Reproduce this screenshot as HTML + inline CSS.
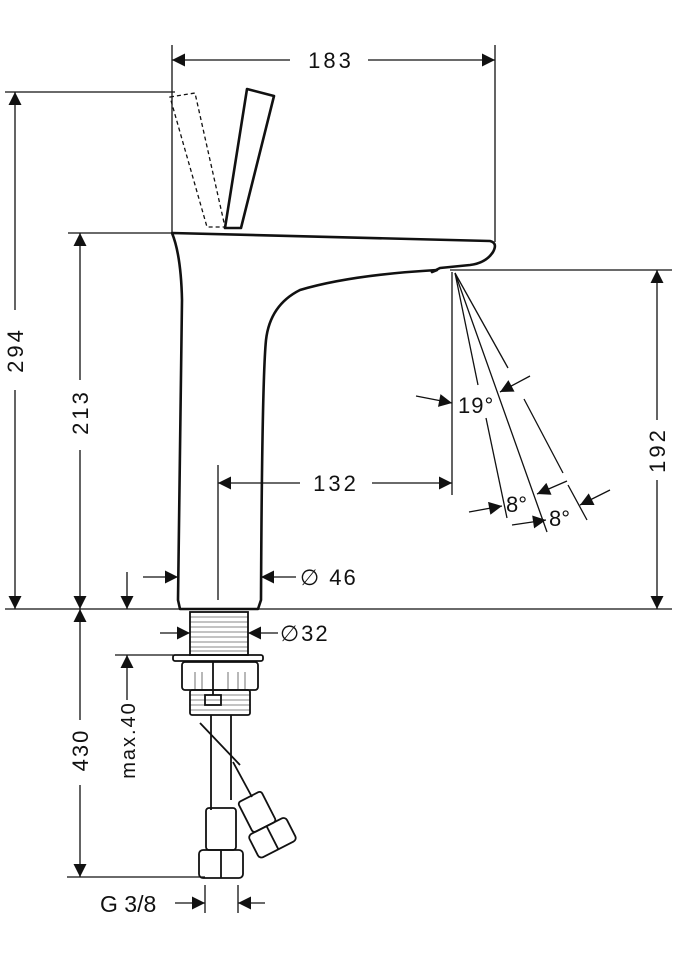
<!DOCTYPE html>
<html><head><meta charset="utf-8"><style>
html,body{margin:0;padding:0;background:#fff}
svg{display:block}
text{font-family:"Liberation Sans",sans-serif;fill:#111}
</style></head><body>
<svg width="675" height="960" viewBox="0 0 675 960" xmlns="http://www.w3.org/2000/svg">
<defs>
<marker id="a" viewBox="0 0 10 10" refX="10" refY="5" markerWidth="17" markerHeight="13" markerUnits="userSpaceOnUse" orient="auto"><path d="M0,0L10,5L0,10z" fill="#111"/></marker>
</defs>
<g stroke="#111" stroke-width="1.3" fill="none">
<line x1="172" y1="45" x2="172" y2="233"/>
<line x1="495" y1="45" x2="495" y2="242"/>
<line x1="5" y1="92" x2="175" y2="92"/>
<line x1="68" y1="233" x2="172" y2="233"/>
<line x1="450" y1="270" x2="672" y2="270"/>
<line x1="5" y1="609" x2="672" y2="609"/>
<line x1="67" y1="877" x2="205" y2="877"/>
<line x1="115" y1="655" x2="175" y2="655"/>
<line x1="218" y1="465" x2="218" y2="600"/>
<line x1="452" y1="272" x2="452" y2="495"/>
<line x1="205" y1="885" x2="205" y2="913"/>
<line x1="238" y1="885" x2="238" y2="913"/>
<line x1="290" y1="60" x2="172" y2="60" marker-end="url(#a)"/>
<line x1="368" y1="60" x2="495" y2="60" marker-end="url(#a)"/>
<line x1="15" y1="310" x2="15" y2="92" marker-end="url(#a)"/>
<line x1="15" y1="390" x2="15" y2="609" marker-end="url(#a)"/>
<line x1="80" y1="380" x2="80" y2="233" marker-end="url(#a)"/>
<line x1="80" y1="450" x2="80" y2="609" marker-end="url(#a)"/>
<line x1="80" y1="720" x2="80" y2="609" marker-end="url(#a)"/>
<line x1="80" y1="785" x2="80" y2="877" marker-end="url(#a)"/>
<line x1="657" y1="420" x2="657" y2="270" marker-end="url(#a)"/>
<line x1="657" y1="480" x2="657" y2="609" marker-end="url(#a)"/>
<line x1="127" y1="572" x2="127" y2="609" marker-end="url(#a)"/>
<line x1="127" y1="700" x2="127" y2="655" marker-end="url(#a)"/>
<line x1="300" y1="483" x2="218" y2="483" marker-end="url(#a)"/>
<line x1="372" y1="483" x2="452" y2="483" marker-end="url(#a)"/>
<line x1="143" y1="577" x2="178" y2="577" marker-end="url(#a)"/>
<line x1="296" y1="577" x2="261" y2="577" marker-end="url(#a)"/>
<line x1="160" y1="633" x2="190" y2="633" marker-end="url(#a)"/>
<line x1="278" y1="633" x2="248" y2="633" marker-end="url(#a)"/>
<line x1="175" y1="903" x2="205" y2="903" marker-end="url(#a)"/>
<line x1="265" y1="903" x2="238" y2="903" marker-end="url(#a)"/>
<line x1="416" y1="396" x2="452" y2="403" marker-end="url(#a)"/>
<line x1="530" y1="376" x2="500" y2="392" marker-end="url(#a)"/>
<line x1="469" y1="512" x2="502" y2="506" marker-end="url(#a)"/>
<line x1="567" y1="481" x2="537" y2="494" marker-end="url(#a)"/>
<line x1="512" y1="525" x2="546" y2="520" marker-end="url(#a)"/>
<line x1="610" y1="490" x2="580" y2="505" marker-end="url(#a)"/>
<line x1="455" y1="273" x2="478" y2="385"/>
<line x1="486" y1="418" x2="507" y2="518"/>
<line x1="455" y1="273" x2="547" y2="532"/>
<line x1="455" y1="273" x2="508" y2="368"/>
<line x1="524" y1="399" x2="563" y2="473"/>
<line x1="568" y1="485" x2="587" y2="520"/>
</g>
<g stroke="#111" stroke-width="2.6" fill="none" stroke-linejoin="round">
<path d="M172,233 L490,241 Q498,243 493,252 Q486,263 470,265 L440,268 L432,272 L437,270 Q350,275 300,290 Q270,305 266,340 Q262,380 261,600 L258,609 L180,609 L178,600 Q180,400 182,300 Q181,255 172,233 Z"/>
<path d="M247,89 L274,96 L241,228 L225,228 Z"/>
</g>
<path d="M170,97 L195,93 L225,227 L207,227 Z" stroke="#111" stroke-width="1.3" stroke-dasharray="4,3" fill="none"/>
<g stroke="#111" stroke-width="1.8" fill="none">
<rect x="190" y="612" width="58" height="43"/>
<rect x="173" y="655" width="90" height="6" rx="2"/>
<rect x="182" y="662" width="76" height="28" rx="3"/>
<rect x="190" y="690" width="60" height="25" rx="2"/>
<line x1="211" y1="715" x2="211" y2="810"/>
<line x1="231" y1="715" x2="231" y2="800"/>
<rect x="206" y="808" width="30" height="42" rx="3"/>
<rect x="199" y="850" width="44" height="28" rx="4"/>
<line x1="221" y1="850" x2="221" y2="878"/>
<line x1="200" y1="723" x2="240" y2="765"/>
<line x1="233" y1="762" x2="252" y2="797"/>
<g transform="rotate(-27 262 815)">
<rect x="246" y="793" width="26" height="34" rx="3"/>
<rect x="240" y="827" width="42" height="26" rx="4"/>
<line x1="261" y1="827" x2="261" y2="853"/>
</g>
<rect x="205" y="695" width="16" height="10"/>
<line x1="213" y1="662" x2="213" y2="695"/>
</g>
<g stroke="#111" stroke-width="0.6">
<line x1="190" y1="617" x2="248" y2="617"/><line x1="190" y1="622" x2="248" y2="622"/><line x1="190" y1="627" x2="248" y2="627"/><line x1="190" y1="632" x2="248" y2="632"/><line x1="190" y1="637" x2="248" y2="637"/><line x1="190" y1="642" x2="248" y2="642"/><line x1="190" y1="647" x2="248" y2="647"/><line x1="190" y1="651" x2="248" y2="651"/>
<line x1="190" y1="695" x2="250" y2="695"/><line x1="190" y1="700" x2="250" y2="700"/><line x1="190" y1="705" x2="250" y2="705"/><line x1="190" y1="710" x2="250" y2="710"/>
<line x1="195" y1="672" x2="195" y2="690"/><line x1="202" y1="672" x2="202" y2="690"/><line x1="228" y1="672" x2="228" y2="690"/><line x1="238" y1="672" x2="238" y2="690"/><line x1="245" y1="672" x2="245" y2="690"/>
</g>
<g font-size="22">
<text x="331" y="68" text-anchor="middle" letter-spacing="3">183</text>
<text x="336" y="491" text-anchor="middle" letter-spacing="3">132</text>
<text x="300" y="585" letter-spacing="2">∅ 46</text>
<text x="280" y="641" letter-spacing="2">∅32</text>
<text x="458" y="413" letter-spacing="1">19°</text>
<text x="506" y="512">8°</text>
<text x="549" y="526">8°</text>
<text x="100" y="912" font-size="23">G 3/8</text>
<text transform="translate(23,350) rotate(-90)" text-anchor="middle" letter-spacing="3">294</text>
<text transform="translate(88,412) rotate(-90)" text-anchor="middle" letter-spacing="3">213</text>
<text transform="translate(665,450) rotate(-90)" text-anchor="middle" letter-spacing="3">192</text>
<text transform="translate(88,750) rotate(-90)" text-anchor="middle" letter-spacing="2">430</text>
<text transform="translate(135,740) rotate(-90)" text-anchor="middle" font-size="20" letter-spacing="2">max.40</text>
</g>
</svg>
</body></html>
